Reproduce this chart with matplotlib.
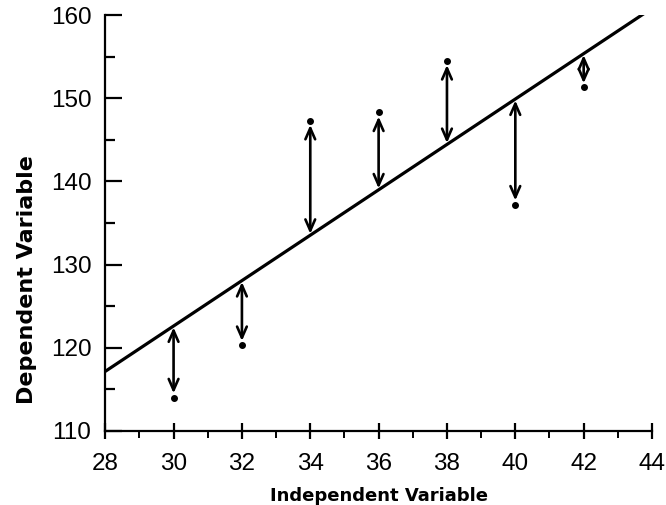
import numpy as np
import matplotlib.pyplot as plt
from matplotlib.ticker import MultipleLocator

# observed points
x_obs = [30, 32, 34, 36, 38, 40, 42]
y_obs = [114.0, 120.3, 147.3, 148.3, 154.5, 137.2, 151.3]

x_ticks = [28, 30, 32, 34, 36, 38, 40, 42, 44]
y_ticks = [110, 120, 130, 140, 150, 160]

plt.rcParams['font.family'] = ['Liberation Sans', 'DejaVu Sans']

fig = plt.figure(figsize=(6.66, 5.05), dpi=100)
ax = fig.add_axes([0.158, 0.147, 0.821, 0.823])

# least squares line
slope, icpt = np.polyfit(x_obs, y_obs, 1)
xl = np.array([28, 44])
ax.plot(xl, icpt + slope * xl, color='black', lw=2.3, solid_capstyle='butt')

# residual arrows
for x, y in zip(x_obs, y_obs):
    yf = icpt + slope * x
    ax.annotate('', xy=(x, y), xytext=(x, yf),
                arrowprops=dict(arrowstyle='<->,head_length=0.8,head_width=0.35',
                                color='black', lw=1.9, shrinkA=1, shrinkB=3))

ax.plot(x_obs, y_obs, 'o', color='black', ms=4)

ax.set_xlim(28, 44)
ax.set_ylim(110, 160)
ax.set_xticks(x_ticks)
ax.set_yticks(y_ticks)
ax.xaxis.set_minor_locator(MultipleLocator(1))
ax.yaxis.set_minor_locator(MultipleLocator(5))

for s in ['top', 'right']:
    ax.spines[s].set_visible(False)
for s in ['left', 'bottom']:
    ax.spines[s].set_linewidth(1.6)

ax.tick_params(axis='x', which='major', direction='inout', length=12, width=1.6,
               labelsize=17.5, pad=10)
ax.tick_params(axis='x', which='minor', direction='out', length=5, width=1.4)
ax.tick_params(axis='y', which='major', direction='in', length=12, width=1.6,
               labelsize=17.5, pad=10)
ax.tick_params(axis='y', which='minor', direction='in', length=7, width=1.6)

ax.set_xlabel('Independent Variable', fontsize=13, fontweight='bold',
              family='DejaVu Sans', labelpad=9)
ax.set_ylabel('Dependent Variable', fontsize=16, fontweight='bold',
              family='DejaVu Sans')
ax.yaxis.set_label_coords(-0.125, 0.365)

fig.savefig('out.png', dpi=100)
